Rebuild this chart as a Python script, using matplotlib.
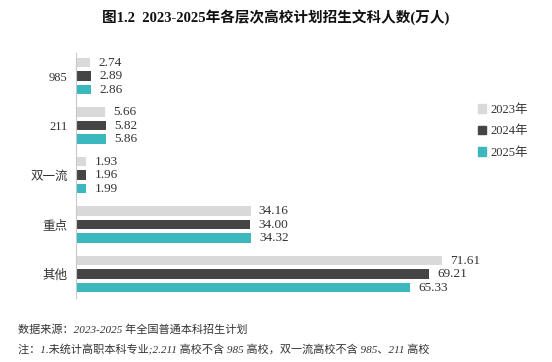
import numpy as np
import matplotlib.pyplot as plt
from matplotlib.patches import Patch

plt.rcParams['font.family'] = ['Liberation Serif', 'Noto Sans CJK SC', 'DejaVu Sans']

categories = ['985', '211', '双一流', '重点', '其他']
years = ['2023年', '2024年', '2025年']
v2023 = [2.74, 5.66, 1.93, 34.16, 71.61]
v2024 = [2.89, 5.82, 1.96, 34.00, 69.21]
v2025 = [2.86, 5.86, 1.99, 34.32, 65.33]

colors = ['#d9d9d9', '#454545', '#3bb7be']
text_color = '#333333'

fig = plt.figure(figsize=(5.52, 3.62), dpi=100)
ax = fig.add_axes([0.138, 0.177, 0.712, 0.677])

y = np.arange(len(categories))
step = 0.273
h = 0.19
for k, (vals, col) in enumerate(zip([v2023, v2024, v2025], colors)):
    pos = y + (k - 1) * step
    bars = ax.barh(pos, vals, height=h, color=col, label=years[k])
    for b, v in zip(bars, vals):
        ax.annotate(f'{v:.2f}', (b.get_width(), b.get_y() + b.get_height() / 2),
                    xytext=(6, 0), textcoords='offset points', va='center', ha='left',
                    fontsize=9.5, color=text_color)

ax.set_ylim(4.48, -0.47)
ax.set_xlim(0, 77)
ax.set_yticks(y)
ax.set_yticklabels(categories, fontsize=9, color=text_color)
ax.tick_params(axis='y', length=0, pad=6)
ax.set_xticks([])
for s in ['top', 'right', 'bottom']:
    ax.spines[s].set_visible(False)
ax.spines['left'].set_color('#c8c8c8')

fig.text(0.5, 0.953, '图1.2  2023-2025年各层次高校计划招生文科人数(万人)',
         ha='center', va='center', fontsize=10.5, fontweight='bold', color='#111111')

handles = [Patch(color=c) for c in colors]
fig.legend(handles, years, loc='center left', bbox_to_anchor=(0.846, 0.637),
           frameon=False, fontsize=9, handlelength=0.65, handleheight=0.65,
           handletextpad=0.35, labelspacing=0.75, labelcolor=text_color)

fig.text(0.033, 0.091, '数据来源：2023-2025 年全国普通本科招生计划',
         ha='left', va='center', fontsize=8, style='italic', color=text_color)
fig.text(0.033, 0.036, '注：1.未统计高职本科专业;2.211 高校不含 985 高校，双一流高校不含 985、211 高校',
         ha='left', va='center', fontsize=8, style='italic', color=text_color)

fig.savefig('out.png', dpi=100)
